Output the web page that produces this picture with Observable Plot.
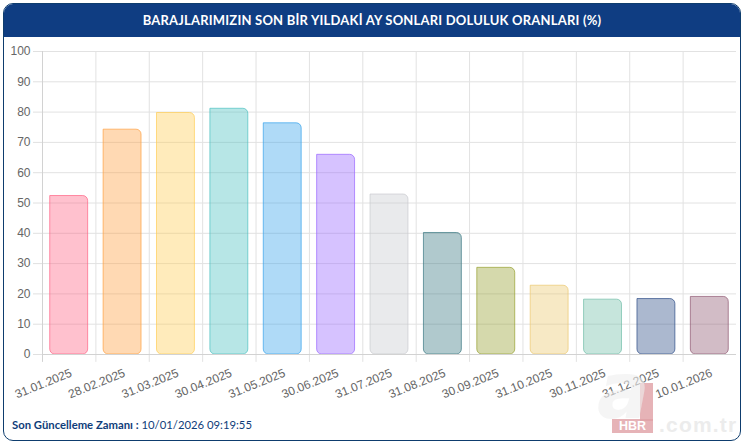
<!DOCTYPE html>
<html lang="tr">
<head>
<meta charset="utf-8">
<script src="https://cdn.jsdelivr.net/npm/d3@7"></script>
<script src="https://cdn.jsdelivr.net/npm/@observablehq/plot@0.6"></script>
<style>
  html, body { margin: 0; padding: 0; background: #fff; }
  #page { position: relative; width: 745px; height: 447px; overflow: hidden; }
  #card { position: absolute; left: 3px; top: 3px; width: 736px; height: 436px; border: 1px solid #0e3d6e; border-radius: 10px; overflow: hidden; background: #fff; }
  #head { height: 33px; background: #0f3d82; color: #fff; text-align: center; font: 700 13px/33px Lato, sans-serif; letter-spacing: .2px; }
  #chart svg { display: block; }
  #chart svg text { font-family: "Liberation Sans", Arial, sans-serif; }
  #foot { position: absolute; left: 8px; top: 414px; font: 400 11.3px Lato, sans-serif; color: #0f3d7a; white-space: nowrap; }
  #foot b { font-weight: 700; }
  #mark { position: absolute; left: 0; top: 0; width: 745px; height: 447px; pointer-events: none; }
  #mark div { position: absolute; white-space: nowrap; }
  #mBar { left: 640px; top: 383px; width: 13px; height: 38px; background: rgba(224,160,165,.8); }
  #mA { left: 597px; top: 352px; font: italic 700 78px/78px "DejaVu Sans", sans-serif; color: rgba(238,238,238,.6); }
  #mHbr { left: 612px; top: 419px; width: 41px; height: 14px; background: rgba(224,160,165,.8); color: #fff; font: 700 12.5px/14px "Liberation Sans", sans-serif; text-align: center; }
  #mCom { left: 659px; top: 414px; font: 700 21px/22px "Liberation Sans", sans-serif; letter-spacing: 1.2px; color: #ececec; }
</style>
</head>
<body>
<div id="page">
  <div id="card">
    <div id="head">BARAJLARIMIZIN SON BİR YILDAKİ AY SONLARI DOLULUK ORANLARI (%)</div>
    <div id="chart"></div>
    <div id="foot"><b>Son Güncelleme Zamanı :</b> 10/01/2026 09:19:55</div>
  </div>
  <div id="mark">
    <div id="mBar"></div>
    <div id="mA">a</div>
    <div id="mHbr">HBR</div>
    <div id="mCom">.com.tr</div>
  </div>
</div>
<script>
const dates = ["31.01.2025","28.02.2025","31.03.2025","30.04.2025","31.05.2025","30.06.2025","31.07.2025","31.08.2025","30.09.2025","31.10.2025","30.11.2025","31.12.2025","10.01.2026"];
const values = [52.3,74.2,79.7,81.1,76.3,65.9,52.8,40.1,28.6,22.7,18.1,18.3,19];
const palette = ["#ff6384","#ff9f40","#ffcd56","#4bc0c0","#36a2eb","#9966ff","#c9cbcf","#3a7882","#96a02f","#ebc86e","#70bea8","#2d4d87","#8e5770"];
const yTicks = [0,10,20,30,40,50,60,70,80,90,100];
const rows = dates.map((date, i) => ({date, value: values[i]}));

const width = 736, height = 363;
const marginLeft = 38, marginRight = 4, marginTop = 14, marginBottom = 46;
const halfBand = (width - marginLeft - marginRight) / dates.length / 2;

const plot = Plot.plot({
  width, height, marginLeft, marginRight, marginTop, marginBottom,
  style: {fontFamily: "'Liberation Sans', Arial, sans-serif", fontSize: "12px", background: "transparent"},
  x: {domain: dates, paddingInner: 0.29, paddingOuter: 0.145, label: null, round: false},
  y: {domain: [0, 100], label: null, ticks: yTicks},
  color: {domain: dates, range: palette},
  marks: [
    Plot.ruleY(yTicks.slice(1), {stroke: "#e2e2e2", strokeWidth: 1}),
    Plot.ruleX(dates.slice(1), {x: d => d, y1: -2.6, y2: 100, dx: -halfBand, stroke: "#e2e2e2", strokeWidth: 1}),
    Plot.ruleX(dates.slice(0, 1), {x: d => d, y1: -2.6, y2: 100, dx: -halfBand, stroke: "#d2d2d2", strokeWidth: 1}),
    Plot.barY(rows, {x: "date", y: "value", fill: "date", fillOpacity: 0.4, stroke: "date", strokeOpacity: 0.7, strokeWidth: 1, ry2: 5, rx2: 5}),
    Plot.ruleY([0], {stroke: "#d2d2d2", strokeWidth: 1}),
    Plot.axisY({ticks: yTicks, tickSize: 9, tickPadding: 3, stroke: "#e0e0e0", fill: "#666", label: null, fontSize: 12}),
    Plot.axisX({domain: dates, tickSize: 0, tickPadding: 18, tickRotate: -22, fill: "#666", label: null, fontSize: 12, dx: 2, textAnchor: "end"})
  ]
});
document.getElementById("chart").appendChild(plot);
</script>
</body>
</html>
